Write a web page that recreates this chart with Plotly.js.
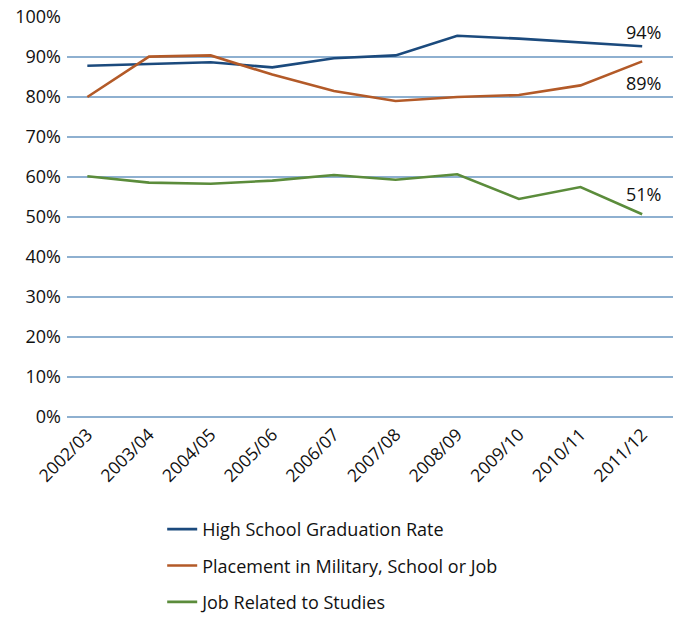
<!DOCTYPE html>
<html>
<head>
<meta charset="utf-8">
<script src="https://cdn.plot.ly/plotly-3.0.1.min.js"></script>
<style>html,body{margin:0;padding:0;background:#fff;}#chart{width:673px;height:617px;}</style>
</head>
<body>
<div id="chart"></div>
<script>
const years = ["2002/03","2003/04","2004/05","2005/06","2006/07","2007/08","2008/09","2009/10","2010/11","2011/12"];
const graduationRate = [87.8, 88.2, 88.7, 87.4, 89.7, 90.4, 95.3, 94.6, 93.6, 92.7];
const placementRate = [80.0, 90.1, 90.4, 85.6, 81.5, 79.0, 80.0, 80.5, 82.9, 88.9];
const jobRelated = [60.2, 58.6, 58.3, 59.1, 60.5, 59.3, 60.7, 54.5, 57.5, 50.7];
const seriesNames = ["High School Graduation Rate","Placement in Military, School or Job","Job Related to Studies"];
const endLabels = ["94%","89%","51%"];

const colors = ["#1b4a7d","#b35a28","#5b8c3b"];
const seriesData = [graduationRate, placementRate, jobRelated];
const font = "Open Sans, Noto Sans, sans-serif";

const traces = seriesData.map((vals, i) => ({
  x: years, y: vals, type: "scatter", mode: "lines", name: seriesNames[i],
  legendgroup: "g" + i,
  line: {color: colors[i], width: 2.6}
}));

const labelShifts = [14, -22, 20];
const annotations = seriesData.map((vals, i) => ({
  x: years[years.length - 1], y: vals[vals.length - 1], xref: "x", yref: "y",
  text: endLabels[i], showarrow: false, yshift: labelShifts[i], xshift: 1,
  font: {family: font, size: 18, color: "#111"}
}));

Plotly.newPlot("chart", traces, {
  width: 673, height: 617,
  margin: {l: 67, r: 0, t: 17, b: 200, autoexpand: false},
  paper_bgcolor: "#fff", plot_bgcolor: "#fff",
  font: {family: font, size: 18, color: "#111"},
  xaxis: {
    type: "category", range: [-0.33, 9.5], tickangle: -45,
    showgrid: false, zeroline: false, showline: false, ticks: "", ticklabelstandoff: 3,
    tickfont: {family: font, size: 17.5, color: "#111"}
  },
  yaxis: {
    range: [0, 100], dtick: 10, ticksuffix: "%",
    showgrid: true, gridcolor: "#8eb0d0", gridwidth: 1.3,
    zeroline: true, zerolinecolor: "#8eb0d0", zerolinewidth: 1.3,
    showline: false, ticks: "", ticklen: 0, ticklabelstandoff: 5,
    tickfont: {family: font, size: 18, color: "#111"}
  },
  showlegend: true,
  legend: {
    orientation: "v", xref: "container", yref: "container",
    x: 0.241, xanchor: "left", y: 0.172, yanchor: "top",
    traceorder: "grouped", tracegroupgap: 10, itemwidth: 30,
    font: {family: font, size: 18, color: "#111"}
  },
  annotations: annotations
}, {displayModeBar: false, staticPlot: true});
</script>
</body>
</html>
